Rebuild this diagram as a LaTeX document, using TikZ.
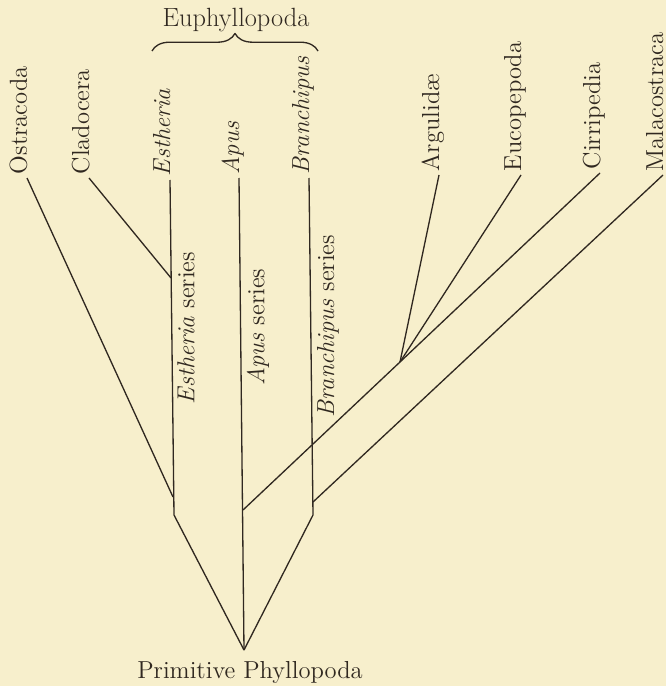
\documentclass[tikz,border=0pt]{standalone}
\usetikzlibrary{decorations.pathreplacing}
\definecolor{paper}{RGB}{247,239,204}
\definecolor{ink}{RGB}{48,40,32}
\tikzset{
  taxon/.style={rotate=90,anchor=base west,inner sep=2pt,font=\fontsize{14}{16}\selectfont,text=ink},
  series/.style={rotate=90,inner sep=0pt,font=\fontsize{14}{16}\selectfont,text=ink},
  branch/.style={draw=ink,line width=0.75pt,line join=round}
}
\begin{document}
\begin{tikzpicture}[x=0.02cm,y=-0.02cm]
  \useasboundingbox[fill=paper] (0,0) rectangle (666,686);
  % tips
  \node[taxon] (ostracoda) at (27,178) {Ostracoda};
  \node[taxon] (cladocera) at (89,178) {Cladocera};
  \node[taxon] (estheria) at (170,180) {\itshape Estheria};
  \node[taxon] (apus) at (239,178) {\itshape Apus};
  \node[taxon] (branchipus) at (309,178) {\itshape Branchipus};
  \node[taxon] (argulidae) at (439,175) {Argulid\ae};
  \node[taxon] (eucopepoda) at (521,175) {Eucopepoda};
  \node[taxon] (cirripedia) at (600,173) {Cirripedia};
  \node[taxon] (malacostraca) at (663,175) {Malacostraca};
  % forks
  \coordinate (root) at (244,650);
  \coordinate (estK) at (174,515);
  \coordinate (brK) at (313,515);
  \coordinate (ostJ) at (173,497);
  \coordinate (claJ) at (171,278);
  \coordinate (apJ) at (243,510);
  \coordinate (brJ) at (313,502);
  \coordinate (arg) at (400,362);
  \node[anchor=north,inner sep=0pt,font=\fontsize{14}{16}\selectfont,text=ink] (primitive) at (250,661) {Primitive Phyllopoda};
  \draw[branch] (root) -- (estK) -- (estheria.base west);
  \draw[branch] (root) -- (apus.base west);
  \draw[branch] (root) -- (brK) -- (branchipus.base west);
  \draw[branch] (ostJ) -- (ostracoda.base west);
  \draw[branch] (claJ) -- (cladocera.base west);
  \draw[branch] (apJ) -- (arg);
  \draw[branch] (arg) -- (argulidae.base west);
  \draw[branch] (arg) -- (eucopepoda.base west);
  \draw[branch] (arg) -- (cirripedia.base west);
  \draw[branch] (brJ) -- (malacostraca.base west);
  % series
  \node[series] (estSeries) at (186,328) {\itshape Estheria\/\upshape\ series};
  \node[series] (apSeries) at (258,327) {\itshape Apus\/\upshape\ series};
  \node[series] (brSeries) at (328,326) {\itshape Branchipus\/\upshape\ series};
  % group
  \draw[branch,decorate,decoration={brace,amplitude=10}] (152,51) -- (318,51);
  \node[font=\fontsize{15}{17}\selectfont,text=ink,inner sep=0pt] (euphyllopoda) at (236,20) {Euphyllopoda};
\end{tikzpicture}
\end{document}
